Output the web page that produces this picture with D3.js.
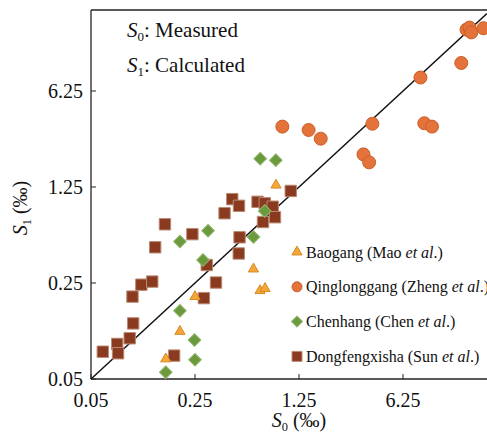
<!DOCTYPE html>
<html>
<head>
<meta charset="utf-8">
<script src="https://cdnjs.cloudflare.com/ajax/libs/d3/7.8.5/d3.min.js"></script>
<style>
  body { margin: 0; background: #fff; }
  svg text { font-family: "Liberation Serif", "Times New Roman", serif; fill: #111; }
</style>
</head>
<body>
<svg id="chart" width="487" height="435"></svg>
<script>
// S0 (measured) / S1 (calculated), per mil
var baogangS0 = [0.159, 0.198, 0.25, 0.618, 0.684, 0.739, 0.876];
var baogangS1 = [0.070, 0.111, 0.199, 0.316, 0.220, 0.228, 1.29];

var qingS0 = [0.966, 1.45, 1.75, 3.39, 3.70, 3.89, 8.19, 8.69, 9.79, 15.4, 16.7, 17.5, 18.0, 21.7];
var qingS1 = [3.44, 3.25, 2.81, 2.16, 1.89, 3.61, 7.84, 3.64, 3.44, 10.0, 17.5, 18.1, 16.7, 17.9];

var chenS0 = [0.159, 0.25, 0.248, 0.198, 0.198, 0.306, 0.283, 0.618, 0.735, 0.686, 0.873];
var chenS1 = [0.056, 0.069, 0.096, 0.157, 0.501, 0.601, 0.368, 0.541, 0.836, 2.01, 1.96];

var dongS0 = [0.060, 0.075, 0.076, 0.091, 0.096, 0.095, 0.109, 0.129, 0.135, 0.157, 0.181, 0.240, 0.287,
              0.300, 0.346, 0.395, 0.445, 0.494, 0.498, 0.492, 0.658, 0.736, 0.832, 0.716, 0.862, 1.10];
var dongS1 = [0.079, 0.090, 0.077, 0.099, 0.127, 0.199, 0.243, 0.256, 0.455, 0.669, 0.074, 0.567, 0.194,
              0.338, 0.252, 0.805, 1.02, 0.912, 0.538, 0.410, 0.975, 0.951, 0.898, 0.695, 0.753, 1.17];

var tickValues = [0.05, 0.25, 1.25, 6.25];
var tickLabels = ["0.05", "0.25", "1.25", "6.25"];

var legendNames = ["Baogang (Mao ", "Qinglonggang (Zheng ", "Chenhang (Chen ", "Dongfengxisha (Sun "];

var svg = d3.select("#chart");

var plotLeft = 91, plotBottom = 379, plotTop = 10, plotRight = 487;

// factor 5 per 104px horizontally, per 96px vertically
var x = d3.scaleLog().domain([0.05, 6.25]).range([plotLeft, 403]);
var y = d3.scaleLog().domain([0.05, 6.25]).range([plotBottom, 91]);

var xMax = x.invert(plotRight);
var yMax = y.invert(plotTop);

// frame
svg.append("line").attr("x1", plotLeft).attr("x2", plotRight).attr("y1", plotTop).attr("y2", plotTop)
    .attr("stroke", "#222").attr("stroke-width", 1.3);
svg.append("line").attr("x1", plotLeft).attr("x2", plotLeft).attr("y1", plotTop).attr("y2", plotBottom)
    .attr("stroke", "#222").attr("stroke-width", 1.3);
svg.append("line").attr("x1", plotLeft).attr("x2", plotRight).attr("y1", plotBottom).attr("y2", plotBottom)
    .attr("stroke", "#222").attr("stroke-width", 1.3);

// ticks (inward)
tickValues.forEach(function(v, i) {
    svg.append("line").attr("x1", x(v)).attr("x2", x(v)).attr("y1", plotBottom).attr("y2", plotBottom - 5)
        .attr("stroke", "#222");
    svg.append("line").attr("x1", plotLeft).attr("x2", plotLeft + 5).attr("y1", y(v)).attr("y2", y(v))
        .attr("stroke", "#222");
    svg.append("text").attr("x", x(v)).attr("y", plotBottom + 28)
        .attr("text-anchor", "middle").style("font-size", "20px").text(tickLabels[i]);
    svg.append("text").attr("x", plotLeft - 8).attr("y", y(v) + 7)
        .attr("text-anchor", "end").style("font-size", "20px").text(tickLabels[i]);
});

// 1:1 line
var lineEnd = Math.min(xMax, yMax);
svg.append("line")
    .attr("x1", x(0.05)).attr("y1", y(0.05))
    .attr("x2", x(lineEnd)).attr("y2", y(lineEnd))
    .attr("stroke", "#111").attr("stroke-width", 1.5);

// points
var dong = dongS0.map(function(d, i) { return [d, dongS1[i]]; });
var chen = chenS0.map(function(d, i) { return [d, chenS1[i]]; });
var bao = baogangS0.map(function(d, i) { return [d, baogangS1[i]]; });
var qing = qingS0.map(function(d, i) { return [d, qingS1[i]]; });

var sqSym = d3.symbol().type(d3.symbolSquare).size(130);
var diaSym = d3.symbol().type(d3.symbolSquare).size(80);
var triSym = d3.symbol().type(d3.symbolTriangle).size(45);

svg.selectAll(".dong").data(dong).enter().append("path")
    .attr("class", "dong")
    .attr("d", sqSym)
    .attr("transform", function(d) { return "translate(" + x(d[0]) + "," + y(d[1]) + ")"; })
    .attr("fill", "#8a3b1f").attr("stroke", "#b98a74").attr("stroke-width", 1);

svg.selectAll(".chen").data(chen).enter().append("path")
    .attr("class", "chen")
    .attr("d", diaSym)
    .attr("transform", function(d) { return "translate(" + x(d[0]) + "," + y(d[1]) + ") rotate(45)"; })
    .attr("fill", "#6b9a3d").attr("stroke", "#8fb46a").attr("stroke-width", 1);

svg.selectAll(".bao").data(bao).enter().append("path")
    .attr("class", "bao")
    .attr("d", triSym)
    .attr("transform", function(d) { return "translate(" + x(d[0]) + "," + y(d[1]) + ")"; })
    .attr("fill", "#f3a63a").attr("stroke", "#d88a20").attr("stroke-width", 1);

svg.selectAll(".qing").data(qing).enter().append("circle")
    .attr("class", "qing")
    .attr("cx", function(d) { return x(d[0]); })
    .attr("cy", function(d) { return y(d[1]); })
    .attr("r", 6.5)
    .attr("fill", "#e3733a").attr("stroke", "#cc5f28").attr("stroke-width", 1);

// legend
var legendSyms = [
    { sym: triSym, fill: "#f3a63a", stroke: "#d88a20", rot: 0 },
    { sym: null, fill: "#e3733a", stroke: "#cc5f28", rot: 0 },
    { sym: d3.symbol().type(d3.symbolSquare).size(60), fill: "#6b9a3d", stroke: "#8fb46a", rot: 45 },
    { sym: d3.symbol().type(d3.symbolSquare).size(100), fill: "#8a3b1f", stroke: "#b98a74", rot: 0 }
];

var legend = svg.selectAll(".legend_item")
    .data(legendNames)
    .enter()
    .append("g")
    .attr("class", "legend_item")
    .attr("transform", function(d, i) { return "translate(297," + (252 + i * 34.8) + ")"; });

legend.each(function(d, i) {
    var g = d3.select(this);
    var s = legendSyms[i];
    if (s.sym) {
        g.append("path").attr("d", s.sym())
            .attr("transform", "rotate(" + s.rot + ")")
            .attr("fill", s.fill).attr("stroke", s.stroke);
    } else {
        g.append("circle").attr("r", 5).attr("fill", s.fill).attr("stroke", s.stroke);
    }
    var t = g.append("text").attr("x", 9).attr("y", 5.5).style("font-size", "16px");
    t.append("tspan").text(d);
    t.append("tspan").style("font-style", "italic").text("et al");
    t.append("tspan").text(".)");
});

// annotation
function sLabel(parent, xp, yp, sub, rest, size) {
    var t = parent.append("text").attr("x", xp).attr("y", yp).style("font-size", size + "px");
    t.append("tspan").style("font-style", "italic").text("S");
    t.append("tspan").attr("dy", 4).style("font-size", (size * 0.62) + "px").text(sub);
    t.append("tspan").attr("dy", -4).text(rest);
    return t;
}
sLabel(svg, 127, 37, "0", ": Measured", 21);
sLabel(svg, 127, 72, "1", ": Calculated", 21);

// axis titles
sLabel(svg, 299, 427, "0", " (‰)", 20).attr("text-anchor", "middle");
sLabel(svg, 0, 0, "1", " (‰)", 20)
    .attr("text-anchor", "middle")
    .attr("transform", "translate(27,208) rotate(-90)");
</script>
</body>
</html>
